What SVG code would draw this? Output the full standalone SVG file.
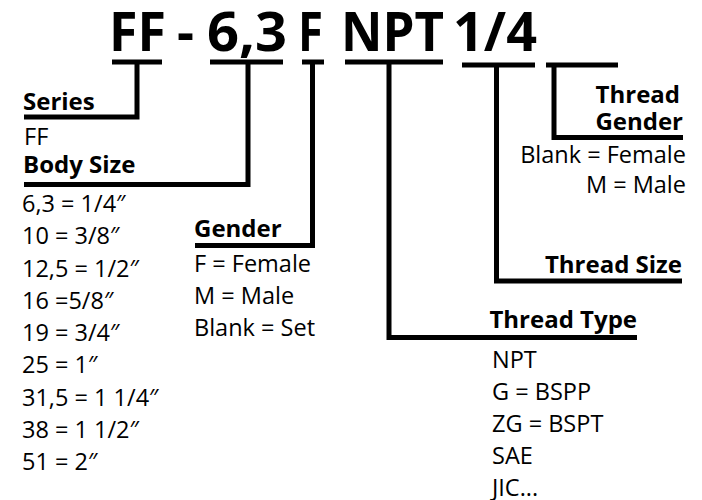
<svg xmlns="http://www.w3.org/2000/svg" width="702" height="500" viewBox="0 0 702 500">
  <style>
    .t { font-family: "Open Sans", "Noto Sans", "Liberation Sans", sans-serif; fill: #000; }
    .title { font-size: 53px; font-weight: 700; }
    .lab { font-size: 24px; font-weight: 700; }
    .txt { font-size: 23.5px; font-weight: 400; }
    .ln { fill: none; stroke: #000; stroke-width: 5; stroke-linejoin: miter; stroke-linecap: butt; }
  </style>
  <rect width="702" height="500" fill="#fff"/>

  <g id="title">
    <text class="t title" x="109" y="51" textLength="57" lengthAdjust="spacingAndGlyphs">FF</text>
    <text class="t title" x="177" y="51" textLength="17" lengthAdjust="spacingAndGlyphs">-</text>
    <text class="t title" x="207" y="51" textLength="80" lengthAdjust="spacingAndGlyphs">6,3</text>
    <text class="t title" x="298" y="51" textLength="25" lengthAdjust="spacingAndGlyphs">F</text>
    <text class="t title" x="341" y="51" textLength="103" lengthAdjust="spacingAndGlyphs">NPT</text>
    <text class="t title" x="453" y="51" textLength="84" lengthAdjust="spacingAndGlyphs">1/4</text>
  </g>

  <g id="connectors">
    <path class="ln" d="M112,62 H162"/>
    <path class="ln" d="M137,62 V117 H24"/>
    <path class="ln" d="M210,62 H283"/>
    <path class="ln" d="M248,62 V184.5 H24"/>
    <path class="ln" d="M302,62 H324"/>
    <path class="ln" d="M312.5,62 V245.5 H195"/>
    <path class="ln" d="M345,62 H443"/>
    <path class="ln" d="M389,62 V337.5 H637"/>
    <path class="ln" d="M462,65 H535"/>
    <path class="ln" d="M496.5,65 V281 H682"/>
    <path class="ln" d="M546,65 H618"/>
    <path class="ln" d="M554,65 V137.5 H683"/>
  </g>

  <g id="series">
    <text class="t lab" x="23" y="110">Series</text>
    <text class="t txt" x="24" y="145">FF</text>
  </g>

  <g id="body-size">
    <text class="t lab" x="23" y="173">Body Size</text>
    <text class="t txt" x="22" y="212">6,3 = 1/4″</text>
    <text class="t txt" x="22" y="244">10 = 3/8″</text>
    <text class="t txt" x="22" y="277">12,5 = 1/2″</text>
    <text class="t txt" x="22" y="309">16 =5/8″</text>
    <text class="t txt" x="22" y="341">19 = 3/4″</text>
    <text class="t txt" x="22" y="373">25 = 1″</text>
    <text class="t txt" x="22" y="406">31,5 = 1 1/4″</text>
    <text class="t txt" x="22" y="438">38 = 1 1/2″</text>
    <text class="t txt" x="22" y="470">51 = 2″</text>
  </g>

  <g id="gender">
    <text class="t lab" x="194" y="237">Gender</text>
    <text class="t txt" x="194" y="272">F = Female</text>
    <text class="t txt" x="194" y="304">M = Male</text>
    <text class="t txt" x="194" y="336">Blank = Set</text>
  </g>

  <g id="thread-type">
    <text class="t lab" x="637" y="328" text-anchor="end">Thread Type</text>
    <text class="t txt" x="492" y="368">NPT</text>
    <text class="t txt" x="492" y="400">G = BSPP</text>
    <text class="t txt" x="492" y="432">ZG = BSPT</text>
    <text class="t txt" x="492" y="464">SAE</text>
    <text class="t txt" x="492" y="496">JIC...</text>
  </g>

  <g id="thread-size">
    <text class="t lab" x="682" y="273" text-anchor="end">Thread Size</text>
  </g>

  <g id="thread-gender">
    <text class="t lab" x="680" y="103" text-anchor="end">Thread</text>
    <text class="t lab" x="683" y="130" text-anchor="end">Gender</text>
    <text class="t txt" x="686" y="163" text-anchor="end">Blank = Female</text>
    <text class="t txt" x="686" y="193" text-anchor="end">M = Male</text>
  </g>
</svg>
